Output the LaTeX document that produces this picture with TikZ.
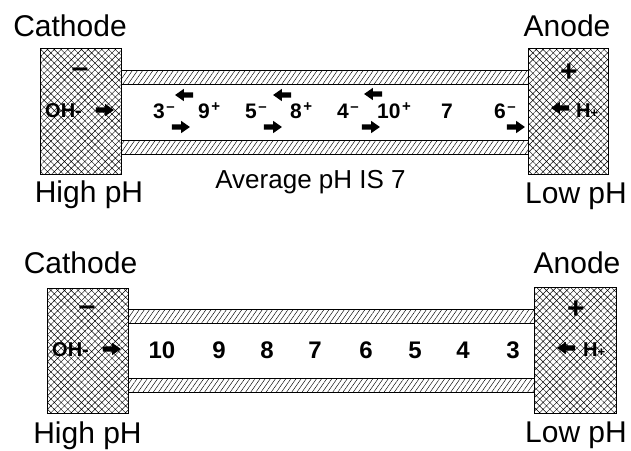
\documentclass[tikz,border=0pt]{standalone}
\usepackage{fontspec}
\setmainfont{Liberation Sans}
\usetikzlibrary{patterns.meta,shapes.arrows}
\newcommand{\chg}[1]{\kern1.5pt\raisebox{7pt}{\fontsize{15}{15}\selectfont #1}}

\begin{document}
\begin{tikzpicture}[
  x=1pt, y=-1pt,
  electrode/.style={draw, line width=0.8pt, inner sep=0pt, minimum width=81pt,
              minimum height=126pt, pattern={Hatch[angle=45,distance=4.8pt,line width=0.45pt]}},
  strip/.style={draw, line width=0.8pt, inner sep=0pt, minimum height=14pt,
              pattern={Lines[angle=55,distance=4.2pt,line width=0.45pt]}},
  lbl/.style={anchor=base, inner sep=0pt, font=\fontsize{30}{30}\selectfont},
  ion/.style={anchor=base west, inner sep=0pt, font=\bfseries\fontsize{20}{20}\selectfont},
  num/.style={anchor=base west, inner sep=0pt, font=\bfseries\fontsize{21}{21}\selectfont},
  numb/.style={anchor=base, inner sep=0pt, font=\bfseries\fontsize{24}{24}\selectfont},
  sign/.style={anchor=base, inner sep=0pt, font=\bfseries\fontsize{30}{30}\selectfont},
  rarr/.style={single arrow, fill=black, inner sep=2.5pt, minimum height=18pt,
              minimum width=12pt, single arrow head extend=3.5pt, single arrow tip angle=70},
  larr/.style={rarr, shape border rotate=180}
]
\useasboundingbox (0,0) rectangle (631,450);
% upper cell
\node[strip, minimum width=407pt] (tubeAt) at (324.5,77) {};
\node[strip, minimum width=407pt] (tubeAb) at (324.5,147) {};
\node[electrode] (cathA) at (80.5,111) {};
\node[electrode, minimum width=80pt] (anA) at (568,111) {};
\node[lbl] (cathAl) at (70,36) {Cathode};
\node[lbl] (anAl) at (567,36) {Anode};
\node[lbl] (highA) at (89,202) {High pH};
\node[lbl] (lowA) at (576,203) {Low pH};
\node[anchor=base, inner sep=0pt, font=\fontsize{26}{26}\selectfont] (avg) at (310.5,188) {Average pH IS 7};
\node[sign] (minusA) at (80,77.5) {--};
\node[sign] (plusA) at (569,81) {+};
\node[ion] (ohA) at (45,117) {OH-};
\node[rarr] (ohAr) at (103,110) {};
\node[ion] (hA) at (576,117) {H{\fontsize{13}{13}\selectfont+}};
\node[larr] (hAr) at (562,108) {};
\node[num] (n3) at (153,118) {3\chg{--}};
\node[num] (n9) at (198,118) {9\chg{+}};
\node[num] (n5) at (245,118) {5\chg{--}};
\node[num] (n8) at (290,118) {8\chg{+}};
\node[num] (n4) at (337,118) {4\chg{--}};
\node[num] (n10) at (377,118) {10\chg{+}};
\node[num] (n7) at (441,118) {7};
\node[num] (n6) at (494,118) {6\chg{--}};
\node[larr] (m1l) at (186,95) {};
\node[rarr] (m1r) at (179,127) {};
\node[larr] (m2l) at (284,95) {};
\node[rarr] (m2r) at (271,127) {};
\node[larr] (m3l) at (375,94) {};
\node[rarr] (m3r) at (369,127) {};
\node[rarr] (m4r) at (514,127) {};
% lower cell
\node[strip, minimum width=406pt] (tubeBt) at (331,316) {};
\node[strip, minimum width=406pt] (tubeBb) at (331,385.5) {};
\node[electrode, minimum height=125pt] (cathB) at (87.5,350.5) {};
\node[electrode, minimum width=82pt] (anB) at (575,350) {};
\node[lbl] (cathBl) at (80.5,273) {Cathode};
\node[lbl] (anBl) at (577,273) {Anode};
\node[lbl] (highB) at (87.5,443) {High pH};
\node[lbl] (lowB) at (576,442) {Low pH};
\node[sign] (minusB) at (87,315.5) {--};
\node[sign] (plusB) at (576,318) {+};
\node[ion] (ohB) at (52,356) {OH-};
\node[rarr] (ohBr) at (110,349) {};
\node[ion] (hB) at (583,356) {H{\fontsize{13}{13}\selectfont+}};
\node[larr] (hBr) at (568,348) {};
\node[numb] (p10) at (162,358) {10};
\node[numb] (p9) at (219,358) {9};
\node[numb] (p8) at (267,358) {8};
\node[numb] (p7) at (315,358) {7};
\node[numb] (p6) at (366,358) {6};
\node[numb] (p5) at (415,358) {5};
\node[numb] (p4) at (463,358) {4};
\node[numb] (p3) at (513,358) {3};
\end{tikzpicture}
\end{document}
